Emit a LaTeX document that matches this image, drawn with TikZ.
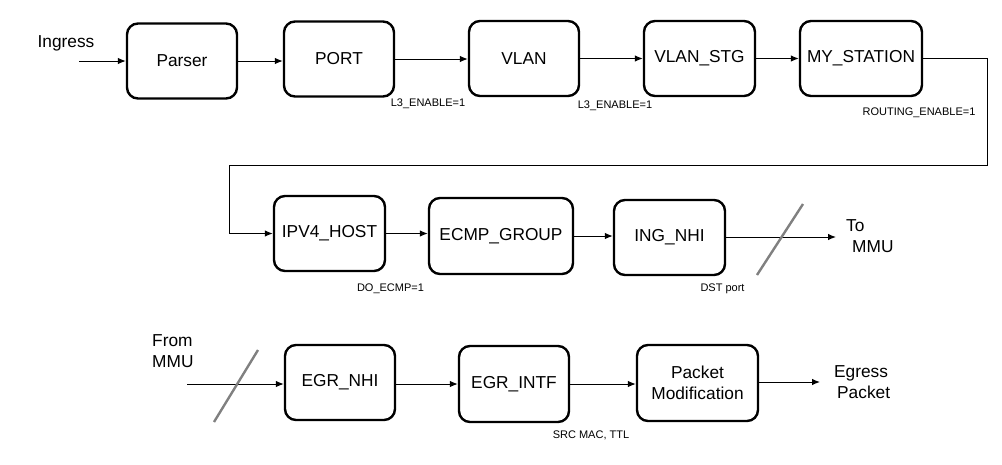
\documentclass[tikz,border=0pt]{standalone}
\usepackage{fontspec}
\setmainfont{Liberation Sans}
\usetikzlibrary{arrows.meta}
\begin{document}
\begin{tikzpicture}[x=1pt,y=-1pt,
  blk/.style={draw, line width=2.4pt, rounded corners=11pt, inner sep=0pt,
    minimum width=110pt, minimum height=75pt, font=\fontsize{17.3}{21}\selectfont, align=center},
  arr/.style={line width=1pt, -{Latex[length=8pt,width=6.5pt]}},
  lbl/.style={font=\fontsize{11}{13}\selectfont, inner sep=0pt},
  txt/.style={font=\fontsize{17.3}{21}\selectfont, inner sep=0pt, align=left},
  slash/.style={draw=black!50, line width=2.4pt}]
\useasboundingbox (0,0) rectangle (1002,464);
% row 1
\node[blk] (parser) at (182,61) {Parser};
\node[blk] (port) at (339,59) {PORT};
\node[blk] (vlan) at (524,58.5) {VLAN};
\node[blk, minimum width=111pt] (vlanstg) at (699.5,58.5) {VLAN\_STG};
\node[blk, minimum width=122pt] (myst) at (861,58.5) {MY\_STATION};
\node[txt] (ingress) at (66,43) {Ingress};
\coordinate (in0) at (79,61);
\draw[arr] (in0) -- (parser.west);
\draw[arr] (parser.east) -- (parser.east -| port.west);
\draw[arr] (port.east) -- (port.east -| vlan.west);
\draw[arr] (vlan.east) -- (vlan.east -| vlanstg.west);
\draw[arr] (vlanstg.east) -- (vlanstg.east -| myst.west);
\node[lbl] (l1) at (428,104) {L3\_ENABLE=1};
\node[lbl] (l2) at (615,106) {L3\_ENABLE=1};
\node[lbl] (l3) at (919,113) {ROUTING\_ENABLE=1};
% row 2
\node[blk, minimum width=111pt] (ipv4) at (329.5,233.5) {IPV4\_HOST};
\node[blk, minimum width=144pt, minimum height=76pt] (ecmp) at (501,236) {ECMP\_GROUP};
\node[blk, minimum width=111pt] (ingnhi) at (669.5,237.5) {ING\_NHI};
\coordinate (c1) at (987,165);
\coordinate (c2) at (229,165);
\draw[arr] (myst.east) -| (c1) -- (c2) |- (ipv4.west);
\draw[arr] (ipv4.east) -- (ipv4.east -| ecmp.west);
\draw[arr] (ecmp.east) -- (ecmp.east -| ingnhi.west);
\coordinate (tommu) at (836,237);
\draw[arr] (ingnhi.east |- tommu) -- (tommu);
\coordinate (s1a) at (757,275);
\coordinate (s1b) at (803,204);
\draw[slash] (s1a) -- (s1b);
\node[txt, anchor=west] (tommutxt) at (846,236) {To\\\hspace{6pt}MMU};
\node[lbl] (l4) at (390.5,289) {DO\_ECMP=1};
\node[lbl] (l5) at (722.5,289) {DST port};
% row 3
\node[blk] (egrnhi) at (340,382.5) {EGR\_NHI};
\node[blk, minimum height=76pt] (egrintf) at (514,384) {EGR\_INTF};
\node[blk, minimum width=121pt, minimum height=76pt] (pktmod) at (697.5,383) {Packet\\Modification};
\node[txt, anchor=west] (frommmu) at (152,351.5) {From\\MMU};
\coordinate (from0) at (187,384);
\draw[arr] (from0) -- (from0 -| egrnhi.west);
\coordinate (s2a) at (214,422);
\coordinate (s2b) at (258,350);
\draw[slash] (s2a) -- (s2b);
\draw[arr] (egrnhi.east |- egrintf.west) -- (egrintf.west);
\draw[arr] (egrintf.east) -- (egrintf.east -| pktmod.west);
\coordinate (egr0) at (820,382);
\draw[arr] (pktmod.east |- egr0) -- (egr0);
\node[txt, anchor=west] (egress) at (834,382.5) {Egress\\\hspace{3pt}Packet};
\node[lbl] (l6) at (591,435) {SRC MAC, TTL};
\end{tikzpicture}
\end{document}
